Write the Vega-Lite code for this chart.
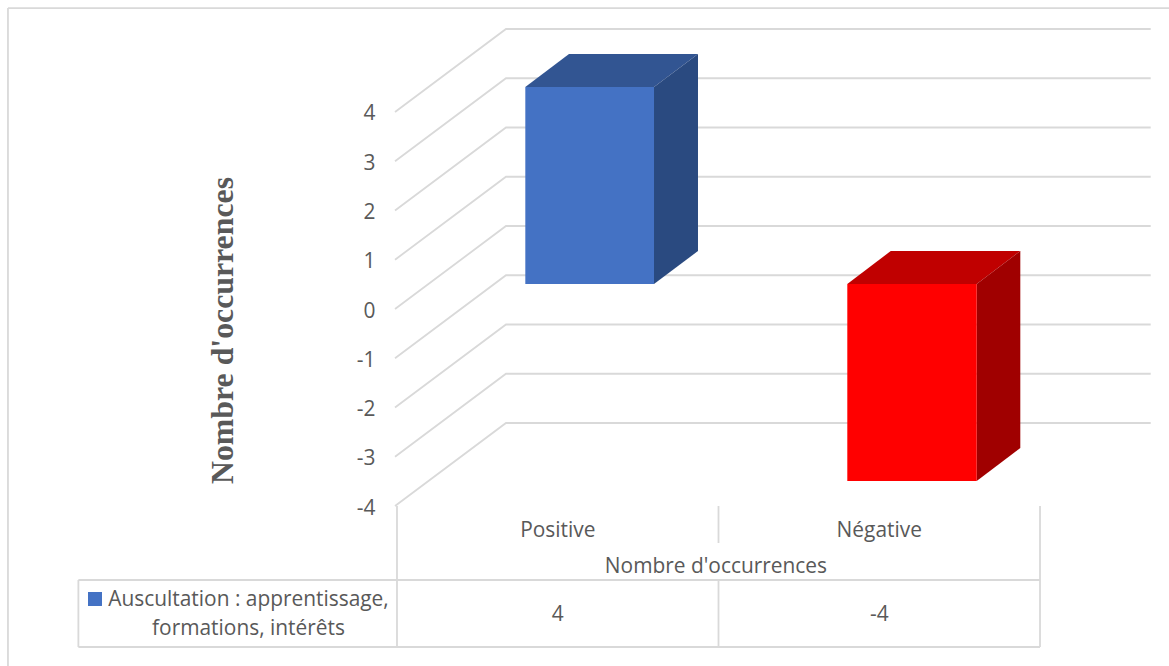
{
"$schema":"https://vega.github.io/schema/vega-lite/v6.json",
"width":1169,"height":666,"padding":0,
"autosize":{"type":"none"},
"background":"white",
"config":{"view":{"stroke":null}},
"datasets":{
"grid":[
{"tick":4,"x":0.4938,"y":4},{"tick":4,"x":0.839,"y":5.6853},{"tick":4,"x":2.8443,"y":5.6853},
{"tick":3,"x":0.4938,"y":3},{"tick":3,"x":0.839,"y":4.6853},{"tick":3,"x":2.8443,"y":4.6853},
{"tick":2,"x":0.4938,"y":2},{"tick":2,"x":0.839,"y":3.6853},{"tick":2,"x":2.8443,"y":3.6853},
{"tick":1,"x":0.4938,"y":1},{"tick":1,"x":0.839,"y":2.6853},{"tick":1,"x":2.8443,"y":2.6853},
{"tick":0,"x":0.4938,"y":0},{"tick":0,"x":0.839,"y":1.6853},{"tick":0,"x":2.8443,"y":1.6853},
{"tick":-1,"x":0.4938,"y":-1},{"tick":-1,"x":0.839,"y":0.6853},{"tick":-1,"x":2.8443,"y":0.6853},
{"tick":-2,"x":0.4938,"y":-2},{"tick":-2,"x":0.839,"y":-0.3147},{"tick":-2,"x":2.8443,"y":-0.3147},
{"tick":-3,"x":0.4938,"y":-3},{"tick":-3,"x":0.839,"y":-1.3147},{"tick":-3,"x":2.8443,"y":-1.3147},
{"tick":-4,"x":0.4938,"y":-4},{"tick":-4,"x":0.839,"y":-2.3147},{"tick":-4,"x":2.8443,"y":-2.3147}
],
"rules":[
{"seg":"frameTop","x":-0.71,"y":6.11},{"seg":"frameTop","x":2.9012,"y":6.11},
{"seg":"frameLeft","x":-0.71,"y":6.11},{"seg":"frameLeft","x":-0.71,"y":-7.2487},
{"seg":"tableTop","x":-0.491,"y":-5.5025},{"seg":"tableTop","x":2.5,"y":-5.5025},
{"seg":"tableBottom","x":-0.491,"y":-6.8629},{"seg":"tableBottom","x":2.5,"y":-6.8629},
{"seg":"tableLeft","x":-0.491,"y":-5.5025},{"seg":"tableLeft","x":-0.491,"y":-6.8629},
{"seg":"col1","x":0.5,"y":-4.0},{"seg":"col1","x":0.5,"y":-6.8629},
{"seg":"col2a","x":1.5,"y":-4.0},{"seg":"col2a","x":1.5,"y":-4.7513},
{"seg":"col2b","x":1.5,"y":-5.5025},{"seg":"col2b","x":1.5,"y":-6.8629},
{"seg":"col3","x":2.5,"y":-4.0},{"seg":"col3","x":2.5,"y":-6.8629}
],
"labels":[
{"label":"Positive","x":1,"y":-4.507},
{"label":"Négative","x":2,"y":-4.507},
{"label":"Nombre d'occurrences","x":1.492,"y":-5.238},
{"label":"4","x":1,"y":-6.213},
{"label":"-4","x":2,"y":-6.213},
{"label":"Auscultation : apprentissage,","x":0.0381,"y":-5.9},
{"label":"formations, intérêts","x":0.0381,"y":-6.49}
],
"legendKey":[{"series":"Auscultation : apprentissage, formations, intérêts","x":-0.4394,"y":-5.888}],
"bars":[
{"category":"Positive","value":4,"base":0,"left":0.8991,"right":1.2994},
{"category":"Négative","value":-4,"base":0,"left":1.9006,"right":2.3031}
],
"tops":[
{"category":"Positive","y":4,"left":0.8991,"right":1.2994},
{"category":"Positive","y":4.67,"left":1.035,"right":1.4362},
{"category":"Négative","y":0,"left":1.9006,"right":2.3031},
{"category":"Négative","y":0.67,"left":2.0358,"right":2.4387}
],
"sides":[
{"category":"Positive","x":1.2994,"top":4,"bottom":0},
{"category":"Positive","x":1.4362,"top":4.67,"bottom":0.67},
{"category":"Négative","x":2.3031,"top":0,"bottom":-4},
{"category":"Négative","x":2.4387,"top":0.67,"bottom":-3.33}
]
},
"layer":[
{"data":{"name":"grid"},
 "mark":{"type":"line","stroke":"#d9d9d9","strokeWidth":1.8},
 "encoding":{
  "x":{"field":"x","type":"quantitative","scale":{"domain":[-0.7348,2.9012],"nice":false,"zero":false},"axis":null},
  "y":{"field":"y","type":"quantitative","scale":{"domain":[-7.2487,6.2741],"nice":false,"zero":false},
   "axis":{"values":[-4,-3,-2,-1,0,1,2,3,4],"labelExpr":"'' + datum.value","offset":-375,"domain":false,"ticks":false,"grid":false,"labelPadding":0,"labelOffset":2,"labelFont":"Open Sans","labelFontSize":20.9,"labelColor":"#595959",
    "title":"Nombre d'occurrences","titleFont":"Liberation Serif","titleFontWeight":"bold","titleFontSize":31.8,"titleColor":"#595959","titleAngle":270,"titleX":-153,"titleY":330,"titleAlign":"center","titleBaseline":"middle"}},
  "detail":{"field":"tick","type":"nominal"}}},
{"data":{"name":"rules"},
 "mark":{"type":"line","stroke":"#d9d9d9","strokeWidth":1.8},
 "encoding":{
  "x":{"field":"x","type":"quantitative","scale":{"domain":[-0.7348,2.9012],"nice":false,"zero":false},"axis":null},
  "y":{"field":"y","type":"quantitative","scale":{"domain":[-7.2487,6.2741],"nice":false,"zero":false},"axis":null},
  "detail":{"field":"seg","type":"nominal"}}},
{"data":{"name":"tops"},
 "mark":{"type":"area","orient":"horizontal"},
 "encoding":{
  "y":{"field":"y","type":"quantitative","scale":{"domain":[-7.7563,5.7665],"nice":false,"zero":false},"axis":null},
  "x":{"field":"left","type":"quantitative","scale":{"domain":[-0.7348,2.9012],"nice":false,"zero":false},"axis":null},
  "x2":{"field":"right"},
  "color":{"field":"category","type":"nominal","scale":{"domain":["Positive","Négative"],"range":["#325592","#c00000"]},"legend":null}}},
{"data":{"name":"sides"},
 "mark":{"type":"area"},
 "encoding":{
  "x":{"field":"x","type":"quantitative","scale":{"domain":[-0.7348,2.9012],"nice":false,"zero":false},"axis":null},
  "y":{"field":"top","type":"quantitative","scale":{"domain":[-7.7563,5.7665],"nice":false,"zero":false},"axis":null},
  "y2":{"field":"bottom"},
  "color":{"field":"category","type":"nominal","scale":{"domain":["Positive","Négative"],"range":["#2a4a80","#a00000"]},"legend":null}}},
{"data":{"name":"bars"},
 "mark":{"type":"rect"},
 "encoding":{
  "x":{"field":"left","type":"quantitative","scale":{"domain":[-0.7348,2.9012],"nice":false,"zero":false},"axis":null},
  "x2":{"field":"right"},
  "y":{"field":"value","type":"quantitative","scale":{"domain":[-7.7563,5.7665],"nice":false,"zero":false},"axis":null},
  "y2":{"field":"base"},
  "color":{"field":"category","type":"nominal","scale":{"domain":["Positive","Négative"],"range":["#4472c4","#ff0000"]},"legend":null}}},
{"data":{"name":"labels"},
 "mark":{"type":"text","font":"Open Sans","fontSize":20.9,"color":"#595959","align":"center","baseline":"middle"},
 "encoding":{
  "x":{"field":"x","type":"quantitative","scale":{"domain":[-0.7348,2.9012],"nice":false,"zero":false},"axis":null},
  "y":{"field":"y","type":"quantitative","scale":{"domain":[-7.2487,6.2741],"nice":false,"zero":false},"axis":null},
  "text":{"field":"label","type":"nominal"}}},
{"data":{"name":"legendKey"},
 "mark":{"type":"point","shape":"square","filled":true,"size":196,"color":"#4472c4","opacity":1},
 "encoding":{
  "x":{"field":"x","type":"quantitative","scale":{"domain":[-0.7348,2.9012],"nice":false,"zero":false},"axis":null},
  "y":{"field":"y","type":"quantitative","scale":{"domain":[-7.2487,6.2741],"nice":false,"zero":false},"axis":null}}}
],
"resolve":{"scale":{"y":"independent","color":"independent"},"axis":{"y":"independent"}}
}
